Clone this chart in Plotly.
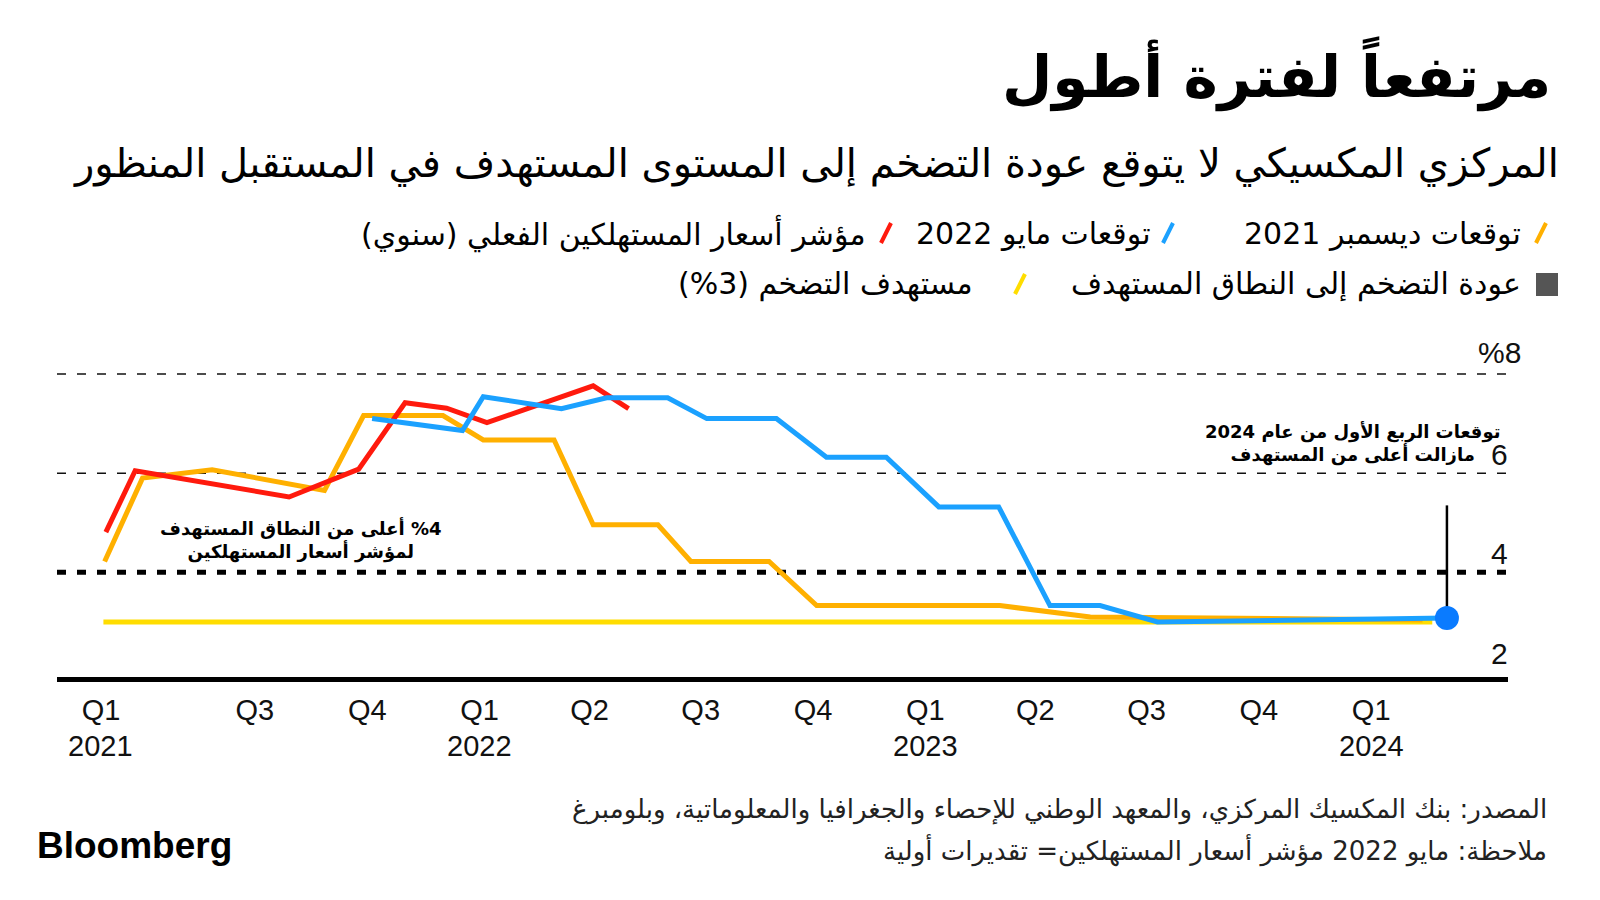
import plotly.graph_objects as go

# ---------------- data ----------------
cpi_dates = ["2021-03-01", "2021-03-25", "2021-07-29", "2021-09-24", "2021-11-01",
             "2021-12-05", "2022-01-07", "2022-04-04", "2022-05-03"]
cpi_values = [4.81, 6.05, 5.52, 6.08, 7.42, 7.31, 7.02, 7.76, 7.30]

dec21_dates = ["2021-02-28", "2021-03-31", "2021-05-27", "2021-08-27", "2021-09-28",
               "2021-12-02", "2022-01-04", "2022-03-03", "2022-04-04", "2022-05-27",
               "2022-06-23", "2022-08-26", "2022-10-04", "2023-03-03", "2023-05-16",
               "2024-02-12"]
dec21_values = [4.22, 5.90, 6.07, 5.65, 7.16, 7.16, 6.67, 6.67, 4.96, 4.96,
                4.22, 4.22, 3.33, 3.33, 3.10, 3.04]

may22_dates = ["2021-10-05", "2021-12-18", "2022-01-04", "2022-03-09", "2022-04-15",
               "2022-06-04", "2022-07-06", "2022-09-01", "2022-10-12", "2022-11-30",
               "2023-01-12", "2023-03-02", "2023-04-13", "2023-05-24", "2023-07-10",
               "2024-03-03"]
may22_values = [7.10, 6.86, 7.54, 7.30, 7.52, 7.52, 7.10, 7.10, 6.32, 6.32,
                5.32, 5.32, 3.33, 3.33, 3.00, 3.08]

target_dates = ["2021-02-27", "2024-02-20"]
target_values = [3.0, 3.0]

tick_dates = ["2021-02-25", "2021-07-01", "2021-10-01", "2022-01-01", "2022-04-01",
              "2022-07-01", "2022-10-01", "2023-01-01", "2023-04-01", "2023-07-01",
              "2023-10-01", "2024-01-01"]
tick_quarters = ["Q1", "Q3", "Q4", "Q1", "Q2", "Q3", "Q4", "Q1", "Q2", "Q3", "Q4", "Q1"]
tick_years = ["2021", "", "", "2022", "", "", "", "2023", "", "", "", "2024"]

y_ticks = [8, 6, 4, 2]
y_tick_labels = ["%8", "6", "4", "2"]
grid_levels = [8, 6]
range_level = 4
callout_top = 5.35

# ---------------- style ----------------
ORANGE = "#FFB000"
BLUE = "#1BA1FF"
RED = "#FF1A0D"
YELLOW = "#FFDD00"
DOT = "#0A7BFF"
AR = "DejaVu Sans"
LAT = "Liberation Sans, Arial, sans-serif"
LRO, PDF = "\u202d", "\u202c"

W, H = 1600, 900
OFF = 8  # page body margin shifts the figure by this many pixels
L, R, T, B = 57 - OFF, 1508 - OFF, 369 - OFF, 677 - OFF


def fx(px):
    return (px - OFF - L) / (R - L)


def fy(py):
    return (B - (py - OFF)) / (B - T)


def rtl(s):
    return "<br>".join("\u202b" + line + "\u202c" for line in s.split("\n"))


fig = go.Figure()
fig.add_trace(go.Scatter(x=target_dates, y=target_values, mode="lines",
                         line=dict(color=YELLOW, width=5), hoverinfo="skip"))
fig.add_trace(go.Scatter(x=dec21_dates, y=dec21_values, mode="lines",
                         line=dict(color=ORANGE, width=5)))
fig.add_trace(go.Scatter(x=cpi_dates, y=cpi_values, mode="lines",
                         line=dict(color=RED, width=5)))
fig.add_trace(go.Scatter(x=may22_dates, y=may22_values, mode="lines",
                         line=dict(color=BLUE, width=5)))
fig.add_trace(go.Scatter(x=[may22_dates[-1]], y=[may22_values[-1]], mode="markers",
                         marker=dict(color=DOT, size=24)))

shapes = []
for g in grid_levels:
    shapes.append(dict(type="line", xref="paper", yref="y", x0=0, x1=1, y0=g, y1=g,
                       line=dict(color="#111", width=1.5, dash="9px,11px"), layer="below"))
shapes.append(dict(type="line", xref="paper", yref="y", x0=0, x1=1, y0=range_level,
                   y1=range_level, line=dict(color="#000", width=5, dash="9px,11px"),
                   layer="below"))
shapes.append(dict(type="line", xref="x", yref="y", x0=may22_dates[-1], x1=may22_dates[-1],
                   y0=may22_values[-1], y1=callout_top, line=dict(color="#000", width=2.5),
                   layer="below"))


def slash(px, py, color):
    return dict(type="line", xref="paper", yref="paper", x0=fx(px - 5), x1=fx(px + 5),
                y0=fy(py + 10), y1=fy(py - 10), line=dict(color=color, width=4))


shapes += [slash(1541, 233, ORANGE), slash(1168, 233, BLUE), slash(886, 233, RED),
           slash(1020, 284, YELLOW)]
shapes.append(dict(type="rect", xref="paper", yref="paper", x0=fx(1536), x1=fx(1558),
                   y0=fy(296), y1=fy(273), fillcolor="#555", line=dict(width=0)))

ann = []


def text(s, px, py, size, anchor="right", bold=False, color="#000", family=AR):
    t = rtl(s)
    if bold:
        t = "<b>" + t + "</b>"
    ann.append(dict(text=t, xref="paper", yref="paper", x=fx(px), y=fy(py),
                    xanchor=anchor, yanchor="middle", showarrow=False, align=anchor,
                    font=dict(family=family, size=size, color=color)))


text("مرتفعاً لفترة أطول", 1553, 74, 58, bold=True)
text("المركزي المكسيكي لا يتوقع عودة التضخم إلى المستوى المستهدف في المستقبل المنظور",
     1561, 163, 40)
text("توقعات ديسمبر 2021", 1523, 233, 30)
text("توقعات مايو 2022", 1153, 233, 30)
text("مؤشر أسعار المستهلكين الفعلي (سنوي)", 867, 233, 30)
text("عودة التضخم إلى النطاق المستهدف", 1523, 284, 30)
text("مستهدف التضخم (" + LRO + "%3" + PDF + ")", 975, 284, 30)
text(LRO + "%4" + PDF + " أعلى من النطاق المستهدف\nلمؤشر أسعار المستهلكين", 301, 540, 18,
     anchor="center", bold=True)
text("توقعات الربع الأول من عام 2024\nمازالت أعلى من المستهدف", 1352, 443, 18,
     anchor="center", bold=True)
text("المصدر: بنك المكسيك المركزي، والمعهد الوطني للإحصاء والجغرافيا والمعلوماتية، وبلومبرغ",
     1549, 809, 26, color="#222")
text("ملاحظة: مايو 2022 مؤشر أسعار المستهلكين= تقديرات أولية", 1549, 850, 26, color="#222")

ann.append(dict(text="<b>Bloomberg</b>", xref="paper", yref="paper", x=fx(35), y=fy(845),
                xanchor="left", yanchor="middle", showarrow=False,
                font=dict(family=LAT, size=37, color="#000")))

for v, lab in zip(y_ticks, y_tick_labels):
    ann.append(dict(text=lab, xref="paper", yref="y", x=1, y=v, xanchor="right",
                    yanchor="bottom", showarrow=False,
                    xshift=(15 if lab.startswith("%") else 2),
                    yshift=(3 if lab.startswith("%") else 0),
                    font=dict(family=LAT, size=30, color="#111")))

for d, yr in zip(tick_dates, tick_years):
    if yr:
        ann.append(dict(text=yr, xref="x", yref="paper", x=d, y=fy(746), xanchor="center",
                        yanchor="middle", showarrow=False,
                        font=dict(family=LAT, size=29, color="#111")))

fig.update_layout(
    width=W, height=H,
    margin=dict(l=L, r=W - R, t=T, b=H - B, pad=0),
    paper_bgcolor="white", plot_bgcolor="white",
    showlegend=False,
    shapes=shapes, annotations=ann,
    xaxis=dict(type="date", range=["2021-01-20", "2024-04-22"], tickvals=tick_dates,
               ticktext=tick_quarters, showgrid=False, zeroline=False, showline=True,
               linecolor="#000", linewidth=5, ticks="", ticklabelstandoff=3,
               tickfont=dict(family=LAT, size=29, color="#111")),
    yaxis=dict(range=[1.89, 8.1], showgrid=False, zeroline=False, showticklabels=False,
               ticks="", showline=False),
)

fig.write_html("out.html")
